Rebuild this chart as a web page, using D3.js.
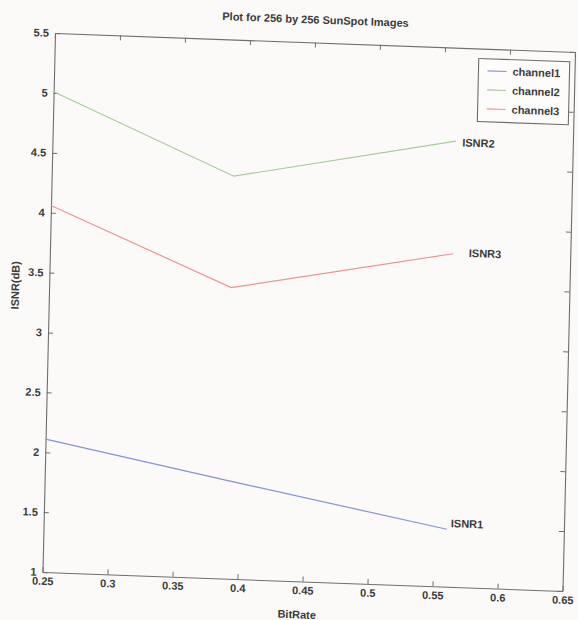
<!DOCTYPE html>
<html>
<head>
<meta charset="utf-8">
<script src="https://cdn.jsdelivr.net/npm/d3@7"></script>
<style>
    body { margin: 0; background: #fcfaf8; }
    text { font-family: "Liberation Sans", Arial, sans-serif; font-weight: bold; fill: #3a3a3a; }
</style>
</head>
<body>
<div id="chart"></div>
<script>
// values
const bitRate = [0.25, 0.39, 0.56];
const channel1 = [2.11, 1.82, 1.48];
const channel2 = [5.01, 4.36, 4.72];
const channel3 = [4.06, 3.43, 3.78];
const seriesNames = ["channel1", "channel2", "channel3"];
const xTicks = [0.25, 0.3, 0.35, 0.4, 0.45, 0.5, 0.55, 0.6, 0.65];
const yTicks = [1, 1.5, 2, 2.5, 3, 3.5, 4, 4.5, 5, 5.5];
const endLabels = ["ISNR1", "ISNR2", "ISNR3"];
const endLabelX = [0.563, 0.565, 0.572];
const endLabelY = [1.53, 4.71, 3.79];

const colors = ["#8393d4", "#a8c99c", "#e99494"];

let width = 578, height = 620;
let plotW = 520, plotH = 539;

let svg = d3.select("#chart")
    .append("svg")
    .attr("width", width)
    .attr("height", height);

// the scan is slightly skewed, so the whole figure sits in a tilted frame
let g = svg.append("g")
    .attr("transform", "matrix(1,0.0365,-0.0232,1,55,33)");

let x = d3.scaleLinear().domain([0.25, 0.65]).range([0, plotW]);
let y = d3.scaleLinear().domain([1, 5.5]).range([plotH, 0]);

let fmt = function (d) { return String(+d.toFixed(2)); };

function styleAxis(sel) {
    sel.select(".domain").attr("stroke", "#6e6e6e").attr("stroke-width", 1.1);
    sel.selectAll(".tick line").attr("stroke", "#6e6e6e");
    sel.selectAll("text")
        .style("font-family", "\"Liberation Sans\", Arial, sans-serif")
        .style("font-weight", "bold")
        .attr("font-size", 11)
        .attr("fill", "#3a3a3a");
}

// bottom axis, ticks pointing inward like matlab
g.append("g")
    .attr("transform", "translate(0," + plotH + ")")
    .call(d3.axisBottom(x).tickValues(xTicks).tickSize(-5).tickSizeOuter(0).tickPadding(5).tickFormat(fmt))
    .call(styleAxis);

g.append("g")
    .call(d3.axisTop(x).tickValues(xTicks).tickSize(-5).tickSizeOuter(0).tickFormat(""))
    .call(styleAxis);

g.append("g")
    .call(d3.axisLeft(y).tickValues(yTicks).tickSize(-5).tickSizeOuter(0).tickPadding(6).tickFormat(fmt))
    .call(styleAxis);

g.append("g")
    .attr("transform", "translate(" + plotW + ",0)")
    .call(d3.axisRight(y).tickValues(yTicks).tickSize(-5).tickSizeOuter(0).tickFormat(""))
    .call(styleAxis);

// lines
let line = d3.line()
    .x(function (d, i) { return x(bitRate[i]); })
    .y(function (d) { return y(d); });

[channel1, channel2, channel3].forEach(function (values, i) {
    g.append("path")
        .datum(values)
        .attr("fill", "none")
        .attr("stroke", colors[i])
        .attr("stroke-width", 1.2)
        .attr("d", line);
});

// text annotations at line ends
endLabels.forEach(function (label, i) {
    g.append("text")
        .attr("x", x(endLabelX[i]))
        .attr("y", y(endLabelY[i]))
        .attr("dy", "0.35em")
        .attr("font-size", 11)
        .text(label);
});

// title and axis labels
g.append("text")
    .attr("x", plotW / 2)
    .attr("y", -19)
    .attr("text-anchor", "middle")
    .attr("font-size", 11)
    .text("Plot for 256 by 256 SunSpot Images");

g.append("text")
    .attr("x", plotW / 2 - 5)
    .attr("y", plotH + 37)
    .attr("text-anchor", "middle")
    .attr("font-size", 11)
    .text("BitRate");

g.append("text")
    .attr("transform", "translate(-30," + (plotH / 2 - 16) + ") rotate(-90)")
    .attr("text-anchor", "middle")
    .attr("font-size", 11)
    .text("ISNR(dB)");

// legend
let legend = g.append("g")
    .attr("transform", "translate(424,10)");

legend.append("rect")
    .attr("width", 91)
    .attr("height", 63)
    .attr("fill", "#fdfcfa")
    .attr("stroke", "#6e6e6e")
    .attr("stroke-width", 1.1);

seriesNames.forEach(function (name, i) {
    let row = legend.append("g")
        .attr("transform", "translate(0," + (12 + i * 19) + ")");
    row.append("line")
        .attr("x1", 9)
        .attr("x2", 28)
        .attr("stroke", colors[i])
        .attr("stroke-width", 1.2);
    row.append("text")
        .attr("x", 34)
        .attr("dy", "0.35em")
        .attr("font-size", 11)
        .text(name);
});
</script>
</body>
</html>
